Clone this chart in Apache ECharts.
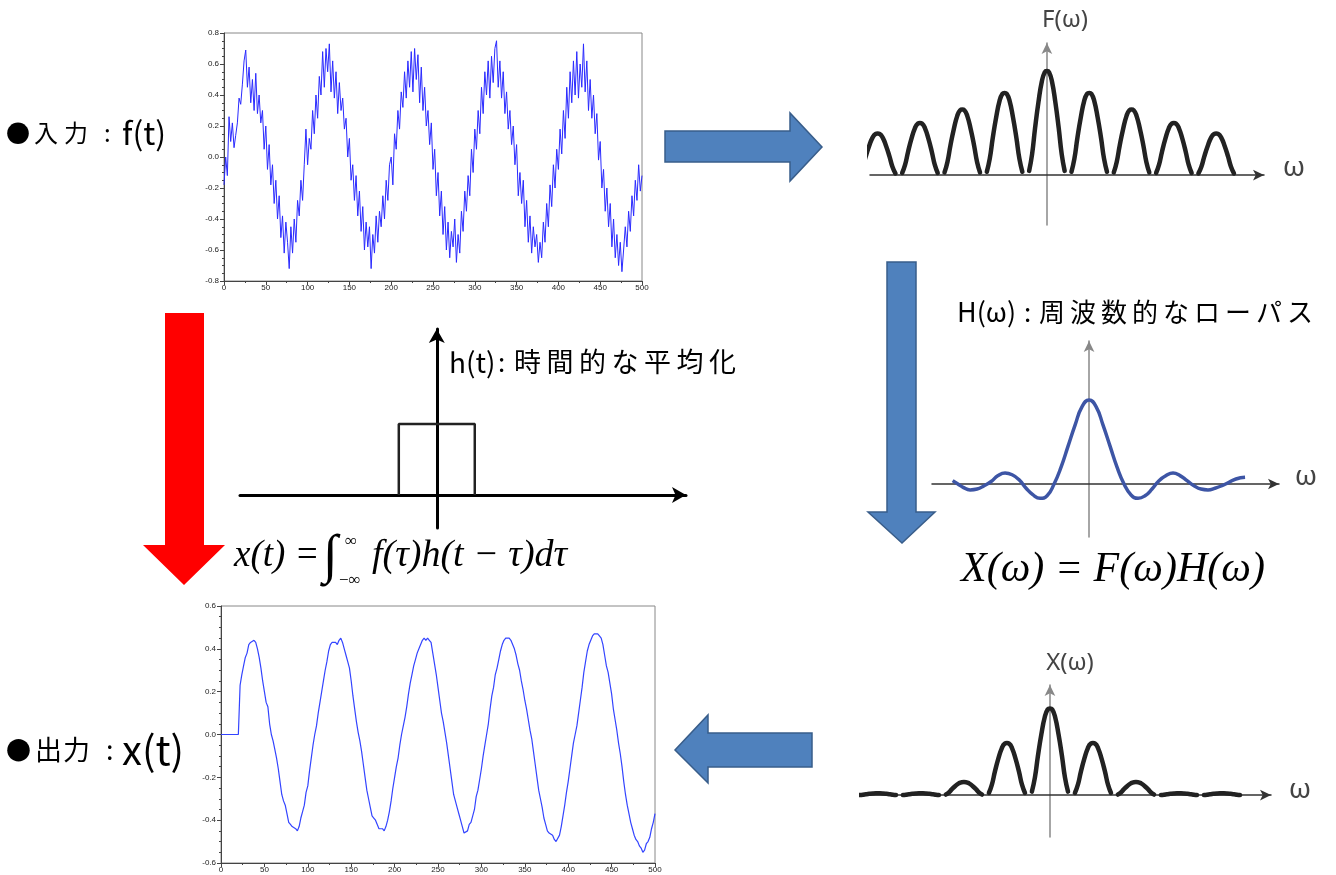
<!DOCTYPE html>
<html><head><meta charset="utf-8">
<script src="https://cdn.jsdelivr.net/npm/echarts@6/dist/echarts.min.js"></script>
<style>html,body{margin:0;padding:0;background:#fff}#c{width:1336px;height:875px}</style>
</head><body><div id="c"></div>
<script>
// ---------- data ----------
const sampleStep = 2; // time step between samples
const inputSignal = [
 -0.18, 0.00, -0.12, 0.26, 0.10, 0.22, 0.06, 0.14, 0.22, 0.38,
 0.34, 0.47, 0.62, 0.69, 0.45, 0.58, 0.35, 0.50, 0.30, 0.54,
 0.28, 0.40, 0.22, 0.30, 0.05, 0.20, -0.08, 0.08, -0.18, -0.05,
 -0.30, -0.15, -0.40, -0.25, -0.52, -0.38, -0.62, -0.42, -0.55, -0.72,
 -0.45, -0.62, -0.40, -0.55, -0.28, -0.38, -0.15, -0.28, -0.05, 0.18,
 -0.05, 0.12, 0.05, 0.30, 0.15, 0.40, 0.25, 0.52, 0.40, 0.68,
 0.45, 0.70, 0.55, 0.73, 0.42, 0.62, 0.38, 0.55, 0.28, 0.48,
 0.30, 0.38, 0.18, 0.25, 0.00, 0.12, -0.15, -0.05, -0.28, -0.12,
 -0.38, -0.22, -0.48, -0.32, -0.60, -0.42, -0.58, -0.45, -0.72, -0.50,
 -0.62, -0.38, -0.55, -0.35, -0.45, -0.25, -0.40, -0.15, -0.28, -0.05,
 0.00, -0.18, 0.15, 0.05, 0.30, 0.18, 0.42, 0.32, 0.55, 0.38,
 0.62, 0.45, 0.68, 0.42, 0.70, 0.50, 0.66, 0.35, 0.58, 0.30,
 0.45, 0.20, 0.30, 0.08, 0.22, -0.08, 0.05, -0.25, -0.10, -0.38,
 -0.22, -0.50, -0.32, -0.60, -0.42, -0.65, -0.48, -0.58, -0.40, -0.68,
 -0.50, -0.62, -0.35, -0.48, -0.22, -0.35, -0.12, -0.25, 0.05, -0.10,
 0.18, 0.05, 0.30, 0.15, 0.45, 0.28, 0.55, 0.40, 0.62, 0.38,
 0.65, 0.48, 0.70, 0.75, 0.45, 0.62, 0.38, 0.55, 0.28, 0.42,
 0.18, 0.30, 0.08, 0.20, -0.05, 0.08, -0.25, -0.10, -0.30, -0.15,
 -0.45, -0.28, -0.55, -0.38, -0.62, -0.45, -0.58, -0.50, -0.68, -0.55,
 -0.65, -0.42, -0.55, -0.30, -0.45, -0.18, -0.32, -0.05, -0.20, 0.05,
 -0.08, 0.18, 0.02, 0.30, 0.12, 0.45, 0.25, 0.55, 0.35, 0.62,
 0.40, 0.68, 0.38, 0.60, 0.45, 0.73, 0.42, 0.62, 0.30, 0.50,
 0.25, 0.40, 0.15, 0.28, -0.02, 0.10, -0.20, -0.08, -0.35, -0.20,
 -0.45, -0.30, -0.58, -0.40, -0.65, -0.50, -0.70, -0.55, -0.74, -0.60,
 -0.45, -0.58, -0.35, -0.48, -0.25, -0.38, -0.15, -0.28, -0.05, -0.22,
 -0.12
];
const outputSignal = [
 0, 0, 0, 0, 0, 0, 0, 0, 0, 0,
 0.00, 0.23, 0.28, 0.32, 0.36, 0.38, 0.42, 0.43, 0.43, 0.44,
 0.43, 0.40, 0.36, 0.31, 0.25, 0.20, 0.15, 0.13, 0.05, 0.00,
 -0.03, -0.07, -0.11, -0.16, -0.22, -0.28, -0.31, -0.33, -0.37, -0.41,
 -0.42, -0.43, -0.43, -0.44, -0.45, -0.43, -0.39, -0.36, -0.33, -0.27,
 -0.24, -0.17, -0.11, -0.05, 0.00, 0.04, 0.10, 0.15, 0.20, 0.25,
 0.30, 0.34, 0.39, 0.42, 0.43, 0.43, 0.43, 0.42, 0.44, 0.45,
 0.43, 0.40, 0.37, 0.34, 0.31, 0.25, 0.18, 0.12, 0.06, 0.01,
 -0.03, -0.08, -0.14, -0.20, -0.26, -0.30, -0.34, -0.38, -0.39, -0.40,
 -0.42, -0.44, -0.44, -0.44, -0.45, -0.43, -0.40, -0.36, -0.31, -0.25,
 -0.20, -0.15, -0.11, -0.05, 0.00, 0.04, 0.08, 0.13, 0.19, 0.24,
 0.28, 0.32, 0.35, 0.38, 0.40, 0.42, 0.44, 0.45, 0.44, 0.45,
 0.44, 0.43, 0.38, 0.33, 0.28, 0.22, 0.16, 0.10, 0.06, 0.01,
 -0.04, -0.10, -0.16, -0.22, -0.28, -0.31, -0.34, -0.37, -0.40, -0.43,
 -0.46, -0.46, -0.45, -0.42, -0.41, -0.38, -0.35, -0.29, -0.26, -0.21,
 -0.16, -0.10, -0.05, 0.00, 0.05, 0.12, 0.18, 0.22, 0.28, 0.31,
 0.35, 0.39, 0.42, 0.44, 0.45, 0.45, 0.45, 0.44, 0.42, 0.40,
 0.37, 0.33, 0.30, 0.25, 0.21, 0.16, 0.12, 0.07, 0.02, -0.02,
 -0.08, -0.14, -0.20, -0.26, -0.30, -0.34, -0.39, -0.42, -0.45, -0.46,
 -0.46, -0.47, -0.49, -0.50, -0.50, -0.47, -0.43, -0.38, -0.33, -0.27,
 -0.22, -0.16, -0.10, -0.04, 0.00, 0.04, 0.10, 0.16, 0.22, 0.29,
 0.34, 0.39, 0.42, 0.44, 0.46, 0.47, 0.47, 0.47, 0.46, 0.45,
 0.42, 0.37, 0.32, 0.29, 0.24, 0.19, 0.12, 0.07, 0.02, -0.04,
 -0.09, -0.15, -0.22, -0.28, -0.33, -0.37, -0.41, -0.44, -0.47, -0.49,
 -0.50, -0.52, -0.53, -0.55, -0.54, -0.51, -0.50, -0.48, -0.44, -0.41,
 -0.37
];
// spectra (schematic)
const lobeCenters = [-4, -3, -2, -1, 0, 1, 2, 3, 4];
const fPeaks = [0.40, 0.50, 0.63, 0.79, 1.00, 0.79, 0.63, 0.50, 0.40];
const xPeaks = [0.02, 0.02, 0.15, 0.60, 1.00, 0.60, 0.15, 0.02, 0.02];
const lobeOffsets = [-0.42, -0.35, -0.28, -0.20, -0.12, -0.05, 0, 0.05, 0.12, 0.20, 0.28, 0.35, 0.42];
const lobeProfile = [0.04, 0.20, 0.45, 0.70, 0.90, 0.99, 1, 0.99, 0.90, 0.70, 0.45, 0.20, 0.04];
// H(omega) low-pass response
const hOmega = [-3.9, -3.75, -3.6, -3.4, -3.2, -3.0, -2.8, -2.6, -2.4, -2.2, -2.0, -1.8, -1.6, -1.4, -1.2, -1.0, -0.8, -0.6, -0.4, -0.2, 0,
  0.2, 0.4, 0.6, 0.8, 1.0, 1.2, 1.4, 1.6, 1.8, 2.0, 2.2, 2.4, 2.6, 2.8, 3.0, 3.2, 3.4, 3.6, 3.8, 4.0, 4.2, 4.46];
const hValues = [0.04, 0.00, -0.04, -0.07, -0.06, -0.02, 0.03, 0.10, 0.13, 0.11, 0.05, -0.05, -0.13, -0.17, -0.14, 0.00, 0.20, 0.45, 0.70, 0.92, 1.00,
  0.92, 0.70, 0.45, 0.20, 0.00, -0.13, -0.17, -0.14, -0.06, 0.04, 0.10, 0.13, 0.10, 0.04, -0.02, -0.06, -0.07, -0.05, -0.02, 0.02, 0.06, 0.08];
// h(t) box (time averaging window)
const boxT = [-0.5, -0.5, 0.5, 0.5];
const boxV = [0, 1, 1, 0];

// ---------- helpers ----------
const SANS = '"Liberation Sans", Arial, sans-serif';
function sciX(g, min, max, interval) {
  return {gridIndex: g, type: 'value', min, max, interval, position: 'bottom',
    axisLine: {show: true, onZero: false, lineStyle: {color: '#444', width: 1}},
    axisTick: {show: true, length: 4, lineStyle: {color: '#444'}},
    minorTick: {show: true, splitNumber: 2, length: 2, lineStyle: {color: '#444'}},
    axisLabel: {fontSize: 8, color: '#222', margin: 3, fontFamily: SANS},
    splitLine: {show: false}};
}
function sciY(g, min, max, interval) {
  return {gridIndex: g, type: 'value', min, max, interval, position: 'left',
    axisLine: {show: true, onZero: false, lineStyle: {color: '#444', width: 1}},
    axisTick: {show: true, length: 4, lineStyle: {color: '#444'}},
    minorTick: {show: true, splitNumber: 4, length: 2, lineStyle: {color: '#444'}},
    axisLabel: {fontSize: 8, color: '#222', margin: 5, fontFamily: SANS, formatter: v => v.toFixed(1)},
    splitLine: {show: false}};
}
function schem(g, min, max, color, width, arrow) {
  return {gridIndex: g, type: 'value', min, max,
    axisLine: {show: true, onZero: true, symbol: ['none', 'arrow'], symbolSize: arrow,
      lineStyle: {color, width}},
    axisTick: {show: false}, axisLabel: {show: false}, splitLine: {show: false}};
}
function lobeSeries(axis, peaks) {
  return lobeCenters.map((c, i) => ({
    type: 'line', xAxisIndex: axis, yAxisIndex: axis, smooth: true, showSymbol: false, clip: false,
    lineStyle: {color: '#222', width: 4.5, cap: 'round'},
    data: lobeOffsets.map((o, j) => [c + o, peaks[i] * lobeProfile[j]])
  }));
}
function chars(str, x, y, adv, font, color) {
  return str.split('').map((ch, i) => ({type: 'text', x: x + i * adv, y, z: 10,
    style: {text: ch, font, fill: color || '#000', textVerticalAlign: 'middle'}}));
}
function txt(text, x, y, font, color, align) {
  return {type: 'text', x, y, z: 10, style: {text, font, fill: color || '#000', textVerticalAlign: 'middle', textAlign: align || 'left'}};
}
const CJK = '"Noto Sans CJK JP", sans-serif';
const SERIF = '"Liberation Serif", "Times New Roman", serif';
const GREEKSANS = '"Noto Sans", sans-serif';

// ---------- chart ----------
const chart = echarts.init(document.getElementById('c'));
const option = {
  animation: false,
  backgroundColor: '#fff',
  grid: [
    {left: 224, top: 33, width: 418, height: 248, show: true, borderColor: '#888', borderWidth: 1, backgroundColor: 'transparent'},
    {left: 221, top: 606, width: 434, height: 257, show: true, borderColor: '#888', borderWidth: 1, backgroundColor: 'transparent'},
    {left: 870, top: 43, width: 394, height: 182},
    {left: 932, top: 341, width: 347, height: 196},
    {left: 862, top: 685, width: 409, height: 152},
    {left: 240, top: 329, width: 446, height: 199}
  ],
  xAxis: [
    sciX(0, 0, 500, 50),
    sciX(1, 0, 500, 50),
    schem(2, -4.18, 5.13, '#333', 1.5, [8, 11]),
    schem(3, -4.49, 5.43, '#333', 1.5, [8, 11]),
    schem(4, -4.37, 5.14, '#333', 1.5, [8, 11]),
    schem(5, -2.59, 3.28, '#000', 3, [12, 14])
  ],
  yAxis: [
    sciY(0, -0.8, 0.8, 0.2),
    sciY(1, -0.6, 0.6, 0.2),
    schem(2, -0.48, 1.27, '#888', 1.5, [8, 11]),
    schem(3, -0.63, 1.70, '#888', 1.5, [8, 11]),
    schem(4, -0.484, 1.27, '#888', 1.5, [8, 11]),
    schem(5, -0.465, 2.34, '#000', 3, [12, 14])
  ],
  series: [
    {type: 'line', xAxisIndex: 0, yAxisIndex: 0, showSymbol: false,
      lineStyle: {color: '#2a2aff', width: 1},
      data: inputSignal.map((v, i) => [i * sampleStep, v])},
    {type: 'line', xAxisIndex: 1, yAxisIndex: 1, showSymbol: false,
      lineStyle: {color: '#3344ff', width: 1.2},
      data: outputSignal.map((v, i) => [i * sampleStep, v])},
    ...lobeSeries(2, fPeaks),
    {type: 'line', xAxisIndex: 3, yAxisIndex: 3, smooth: true, showSymbol: false,
      lineStyle: {color: '#3d55a5', width: 3.5},
      data: hOmega.map((w, i) => [w, hValues[i]])},
    ...lobeSeries(4, xPeaks),
    {type: 'line', xAxisIndex: 5, yAxisIndex: 5, showSymbol: false,
      lineStyle: {color: '#222', width: 2.5},
      data: boxT.map((t, i) => [t, boxV[i]])}
  ],
  graphic: [
    // arrows
    {type: 'polygon', z: 1, shape: {points: [[665,131],[790,131],[790,113],[822,147],[790,181],[790,162],[665,162]]},
      style: {fill: '#4f81bd', stroke: '#385d8a', lineWidth: 1.5}},
    {type: 'polygon', z: 1, shape: {points: [[887,262],[916,262],[916,512],[935,512],[902,543],[868,512],[887,512]]},
      style: {fill: '#4f81bd', stroke: '#385d8a', lineWidth: 1.5}},
    {type: 'polygon', z: 1, shape: {points: [[165,313],[204,313],[204,545],[225,545],[184,585],[143,545],[165,545]]},
      style: {fill: '#ff0000'}},
    {type: 'polygon', z: 1, shape: {points: [[812,733],[708,733],[708,715],[675,750],[708,783],[708,767],[812,767]]},
      style: {fill: '#4f81bd', stroke: '#385d8a', lineWidth: 1.5}},
    // left labels
    txt('●', 6, 133, 'normal 24px ' + CJK),
    ...chars('入力', 34, 133, 30, 'normal 24px ' + CJK),
    txt(':', 104, 133, 'normal 24px ' + CJK),
    txt('f(t)', 122, 133, 'normal 32px ' + CJK),
    txt('●', 6, 750, 'normal 25px ' + CJK),
    ...chars('出力', 35, 750, 28, 'normal 27px ' + CJK),
    txt(':', 106, 750, 'normal 27px ' + CJK),
    txt('x(t)', 122, 750, 'normal 40px ' + CJK),
    // h(t) label
    txt('h(t)', 449, 362, 'normal 28px ' + CJK),
    txt(':', 498, 362, 'normal 26px ' + CJK),
    ...chars('時間的な平均化', 514, 362, 32.5, 'normal 27px ' + CJK),
    // H(omega) label
    txt('H(ω)', 957, 312, 'normal 27px ' + CJK),
    txt(':', 1024, 312, 'normal 26px ' + CJK),
    ...chars('周波数的なローパス', 1039, 312, 31, 'normal 26px ' + CJK),
    // spectrum labels
    txt('F(ω)', 1065, 20, 'normal 24px ' + GREEKSANS, '#444', 'center'),
    txt('X(ω)', 1070, 663, 'normal 24px ' + GREEKSANS, '#444', 'center'),
    txt('ω', 1294, 168, 'normal 28px ' + GREEKSANS, '#444', 'center'),
    txt('ω', 1306, 477, 'normal 28px ' + GREEKSANS, '#444', 'center'),
    txt('ω', 1300, 790, 'normal 28px ' + GREEKSANS, '#444', 'center'),
    // formulas
    txt('x(t) =', 234, 556, 'italic 37px ' + SERIF),
    txt('∫', 323, 558, 'italic 54px ' + SERIF),
    txt('∞', 345, 542, 'normal 17px ' + SERIF),
    txt('−∞', 339, 581, 'normal 17px ' + SERIF),
    txt('f(τ)h(t − τ)dτ', 372, 556, 'italic 38px ' + SERIF),
    txt('X(ω) = F(ω)H(ω)', 961, 570, 'italic 42px ' + SERIF)
  ]
};
chart.setOption(option);
</script>
</body></html>
